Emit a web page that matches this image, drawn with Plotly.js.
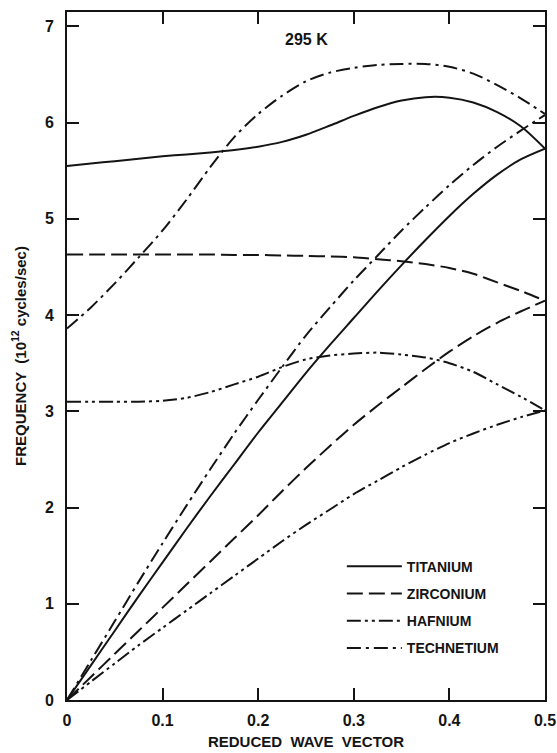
<!DOCTYPE html>
<html>
<head>
<meta charset="utf-8">
<script src="https://cdn.plot.ly/plotly-3.0.1.min.js"></script>
<style>html,body{margin:0;padding:0;background:#fff;}#chart{width:557px;height:753px;}</style>
</head>
<body>
<div id="chart"></div>
<script>
// Reduced wave vector grid
const q = [0, 0.025, 0.05, 0.075, 0.1, 0.125, 0.15, 0.175, 0.2, 0.225, 0.25,
           0.275, 0.3, 0.325, 0.35, 0.375, 0.4, 0.425, 0.45, 0.475, 0.5];

// Frequencies (10^12 cycles/sec)
const titaniumUpper = [5.55, 5.575, 5.60, 5.625, 5.65, 5.67, 5.69, 5.715, 5.75, 5.80, 5.875,
                       5.97, 6.07, 6.16, 6.23, 6.265, 6.26, 6.21, 6.11, 5.96, 5.73];
const titaniumLower = [0, 0.36, 0.72, 1.08, 1.43, 1.78, 2.12, 2.45, 2.78, 3.09, 3.40,
                       3.69, 3.97, 4.25, 4.52, 4.78, 5.03, 5.26, 5.46, 5.62, 5.73];
const zirconiumUpper = [4.63, 4.63, 4.63, 4.63, 4.63, 4.63, 4.63, 4.625, 4.625, 4.62, 4.615,
                        4.61, 4.60, 4.58, 4.56, 4.53, 4.49, 4.43, 4.34, 4.25, 4.15];
const zirconiumLower = [0, 0.24, 0.48, 0.72, 0.96, 1.20, 1.44, 1.68, 1.92, 2.17, 2.41,
                        2.64, 2.86, 3.06, 3.25, 3.44, 3.62, 3.78, 3.92, 4.04, 4.15];
const hafniumUpper = [3.10, 3.10, 3.10, 3.10, 3.11, 3.14, 3.20, 3.28, 3.36, 3.46, 3.54,
                      3.58, 3.60, 3.61, 3.59, 3.56, 3.50, 3.41, 3.28, 3.15, 3.01];
const hafniumLower = [0, 0.19, 0.38, 0.57, 0.75, 0.93, 1.11, 1.29, 1.47, 1.65, 1.82,
                      1.98, 2.14, 2.28, 2.42, 2.55, 2.67, 2.77, 2.86, 2.94, 3.01];
const technetiumUpper = [3.86, 4.08, 4.33, 4.60, 4.88, 5.20, 5.54, 5.85, 6.09, 6.28, 6.43,
                         6.52, 6.57, 6.60, 6.61, 6.61, 6.58, 6.51, 6.39, 6.25, 6.09];
const technetiumLower = [0, 0.41, 0.82, 1.23, 1.63, 2.02, 2.40, 2.77, 3.12, 3.46, 3.79,
                         4.08, 4.36, 4.62, 4.88, 5.12, 5.35, 5.56, 5.75, 5.92, 6.08];

const elementNames = ['TITANIUM', 'ZIRCONIUM', 'HAFNIUM', 'TECHNETIUM'];
const xTickVals = [0, 0.1, 0.2, 0.3, 0.4, 0.5];
const xTickText = ['0', '0.1', '0.2', '0.3', '0.4', '0.5'];
const yTickVals = [0, 1, 2, 3, 4, 5, 6, 7];

const ink = '#141414';
const dashes = ['solid', '16px,6px', '14px,4px,3px,4px,3px,4px', '14px,5px,3px,5px'];
const series = [
  [titaniumUpper, titaniumLower],
  [zirconiumUpper, zirconiumLower],
  [hafniumUpper, hafniumLower],
  [technetiumUpper, technetiumLower]
];

const traces = [];
series.forEach((pair, i) => {
  pair.forEach((ys, j) => {
    traces.push({
      type: 'scatter', mode: 'lines', x: q, y: ys,
      name: elementNames[i], legendgroup: elementNames[i], showlegend: j === 0,
      line: {color: ink, width: 2, dash: dashes[i], shape: 'spline', smoothing: 0.8},
      hoverinfo: 'skip'
    });
  });
});

const fontFam = 'Liberation Sans, Arial, sans-serif';
const layout = {
  width: 557, height: 753,
  margin: {l: 67, r: 12, t: 12, b: 53},
  paper_bgcolor: '#fff', plot_bgcolor: '#fff',
  showlegend: true,
  legend: {
    x: 0.575, y: 0.217, xanchor: 'left', yanchor: 'top',
    bgcolor: 'rgba(0,0,0,0)', borderwidth: 0,
    font: {family: fontFam, size: 14, color: ink, weight: 'bold'},
    tracegroupgap: 6, itemwidth: 55, traceorder: 'grouped'
  },
  xaxis: {
    range: [0, 0.5], tickvals: xTickVals, ticktext: xTickText,
    ticks: 'inside', ticklen: 12, tickwidth: 2, tickcolor: ink,
    showline: true, linewidth: 2, linecolor: ink, mirror: 'ticks',
    showgrid: false, zeroline: false,
    tickfont: {family: fontFam, size: 16, color: ink, weight: 'bold'},
    ticklabelstandoff: 5,
    title: {text: 'REDUCED  WAVE  VECTOR', standoff: 8,
            font: {family: fontFam, size: 15, color: ink, weight: 'bold'}}
  },
  yaxis: {
    range: [0, 7.15], tickvals: yTickVals,
    ticks: 'inside', ticklen: 12, tickwidth: 2, tickcolor: ink,
    showline: true, linewidth: 2, linecolor: ink, mirror: 'ticks',
    showgrid: false, zeroline: false,
    tickfont: {family: fontFam, size: 16, color: ink, weight: 'bold'},
    ticklabelstandoff: 8,
    title: {text: 'FREQUENCY  (10<sup>12</sup> cycles/sec)', standoff: 15,
            font: {family: fontFam, size: 15, color: ink, weight: 'bold'}}
  },
  annotations: [{
    x: 0.25, y: 6.86, xref: 'x', yref: 'y', text: '295 K', showarrow: false,
    font: {family: fontFam, size: 16, color: ink, weight: 'bold'}
  }]
};

Plotly.newPlot('chart', traces, layout, {staticPlot: true, displayModeBar: false});
</script>
</body>
</html>
